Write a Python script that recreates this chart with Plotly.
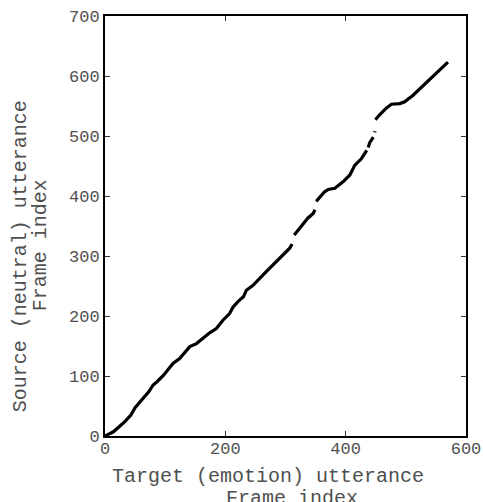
import plotly.graph_objects as go

# Alignment path (target frame index -> source frame index); None marks gaps
target_frames = [0, 14, 33, 43, 50, 58, 66, 73, 80, 86, 97, 105, 113, 124, 133, 141, 152, 163, 174, 185, 196, 207, 213, 221, 230, 235, 246, 268, 290, 307, 311,
                 None,
                 314.5, 326, 337, 346, 349,
                 None,
                 351, 358, 365, 371, 382, 396, 407, 415, 426, 435,
                 None,
                 437.5, 440, 446,
                 None,
                 448.3, 448.9,
                 None,
                 449.5, 456, 467, 476, 490, 498, 512, 526, 534, 545, 556, 570]
source_frames = [0, 7, 24, 35, 47, 57, 65, 74, 85, 90, 101, 111, 121, 129, 140, 149, 154, 163, 172, 179, 193, 204, 215, 224, 232, 243, 251, 274, 296, 313, 320,
                 None,
                 335, 349, 363, 371, 377,
                 None,
                 391, 400, 407, 411, 413, 424, 435, 451, 462, 476,
                 None,
                 481, 489, 498,
                 None,
                 506, 508,
                 None,
                 527, 535, 546, 553, 554, 557, 568, 581, 590, 598.5, 610, 623]

x_ticks = [0, 200, 400, 600]
y_ticks = [0, 100, 200, 300, 400, 500, 600, 700]

FONT = "Liberation Mono, Courier New, monospace"
TXT = "#505050"

fig = go.Figure()
fig.add_trace(go.Scatter(x=target_frames, y=source_frames, mode="lines",
                         line=dict(color="black", width=3.2),
                         connectgaps=False, showlegend=False, hoverinfo="skip"))

axis_common = dict(showgrid=False, zeroline=False, showline=True, linecolor="black", linewidth=2,
                   mirror="ticks", ticks="inside", ticklen=5, tickwidth=1, tickcolor="#333333",
                   automargin=False,
                   tickfont=dict(family=FONT, size=17, color=TXT))

fig.update_xaxes(range=[0, 600], tickvals=x_ticks, ticktext=[str(v) for v in x_ticks],
                 ticklabelstandoff=-4, **axis_common)
fig.update_yaxes(range=[0, 700], tickvals=y_ticks, ticktext=[str(v) for v in y_ticks], **axis_common)

W, H = 483, 502
L, R, T, B = 105, 17, 15.5, 66
pw, ph = W - L - R, H - T - B


def ann(text, px, py, angle=0):
    return dict(text=text, x=(px - L) / pw, y=(H - B - py) / ph, xref="paper", yref="paper",
                xanchor="center", yanchor="middle", textangle=angle, showarrow=False,
                font=dict(family=FONT, size=20, color=TXT))


fig.update_layout(
    width=W, height=H,
    margin=dict(l=L, r=R, t=T, b=B, autoexpand=False),
    plot_bgcolor="white", paper_bgcolor="white",
    annotations=[
        ann("Target (emotion) utterance", 268, 477),
        ann("Frame index", 292, 499),
        ann("Source (neutral) utterance", 20, 256, -90),
        ann("Frame index", 40, 245, -90),
    ],
)

fig.write_html("out.html")
